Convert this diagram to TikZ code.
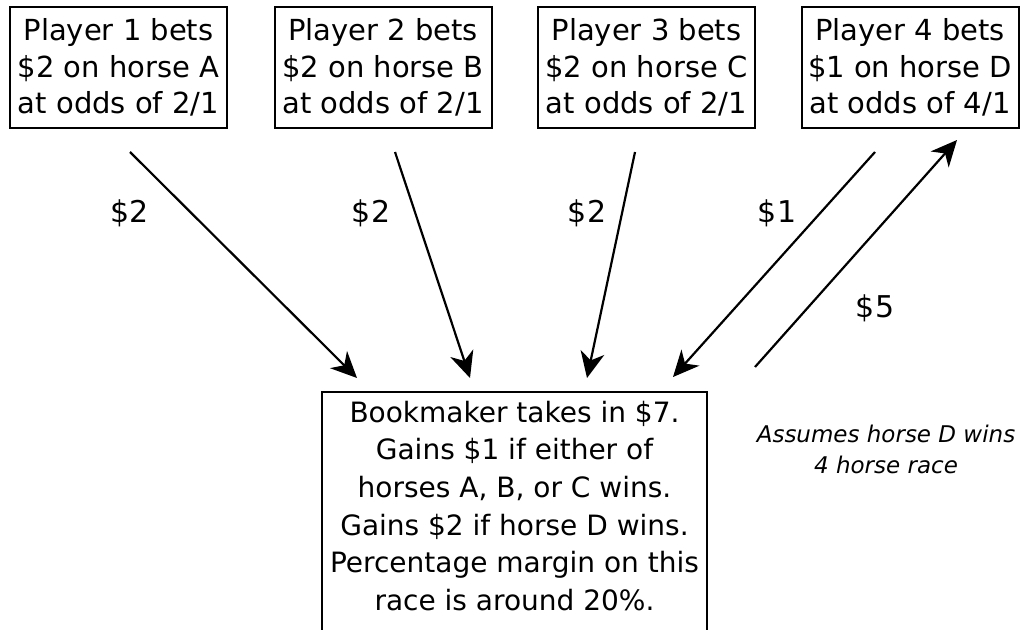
\documentclass[tikz,border=0pt]{standalone}
\usepackage{fontspec}
\setmainfont{DejaVu Sans}
\usetikzlibrary{arrows.meta}

\begin{document}
\begin{tikzpicture}[x=0.5pt, y=-0.5pt,
    player/.style={draw, line width=1pt, align=center, minimum width=108.5pt,
        minimum height=60.5pt, inner sep=0pt, font=\fontsize{14.5}{18.35}\selectfont},
    money/.style={font=\fontsize{15}{18}\selectfont},
    bet/.style={-{Stealth[length=13pt, width=12pt, inset=4pt]}, line width=1.1pt}]
    \useasboundingbox (0, 0) rectangle (1020, 630);
    \clip (0, 0) rectangle (1020, 630);

    % the four players
    \node[player] (p1) at (118.5, 67.5) {Player 1 bets\\\$2 on horse A\\at odds of 2/1};
    \node[player] (p2) at (383, 67.5) {Player 2 bets\\\$2 on horse B\\at odds of 2/1};
    \node[player] (p3) at (646.5, 67.5) {Player 3 bets\\\$2 on horse C\\at odds of 2/1};
    \node[player] (p4) at (910, 67.5) {Player 4 bets\\\$1 on horse D\\at odds of 4/1};

    % the bookmaker, box runs off the bottom
    \node[draw, line width=1pt, anchor=north, inner xsep=0pt, inner ysep=4.5pt] (bookie) at (514.5, 391)
        {\parbox[t][126pt][t]{192.5pt}{\centering\fontsize{14}{18.8}\selectfont
        Bookmaker takes in \$7.\\ Gains \$1 if either of\\ horses A, B, or C wins.\\
        Gains \$2 if horse D wins.\\ Percentage margin on this\\ race is around 20\%.}};

    \node[align=center, font=\itshape\fontsize{11.5}{15.5}\selectfont] (note) at (886, 449)
        {Assumes horse D wins\\4 horse race};

    % ends of the arrows
    \coordinate (p1a) at (130, 152);
    \coordinate (p2a) at (395, 152);
    \coordinate (p3a) at (635, 152);
    \coordinate (p4a) at (875, 152);
    \coordinate (p4b) at (957, 140);
    \coordinate (bk1) at (357, 378);
    \coordinate (bk2) at (470, 378);
    \coordinate (bk3) at (587, 378);
    \coordinate (bk4) at (673, 377);
    \coordinate (bk5) at (755, 367);

    \draw[bet] (p1a) -- (bk1);
    \draw[bet] (p2a) -- (bk2);
    \draw[bet] (p3a) -- (bk3);
    \draw[bet] (p4a) -- (bk4);
    \draw[bet] (bk5) -- (p4b);

    \node[money] (m1) at (130, 213) {\$2};
    \node[money] (m2) at (371, 213) {\$2};
    \node[money] (m3) at (587, 213) {\$2};
    \node[money] (m4) at (777, 213) {\$1};
    \node[money] (m5) at (875, 308) {\$5};
\end{tikzpicture}
\end{document}
